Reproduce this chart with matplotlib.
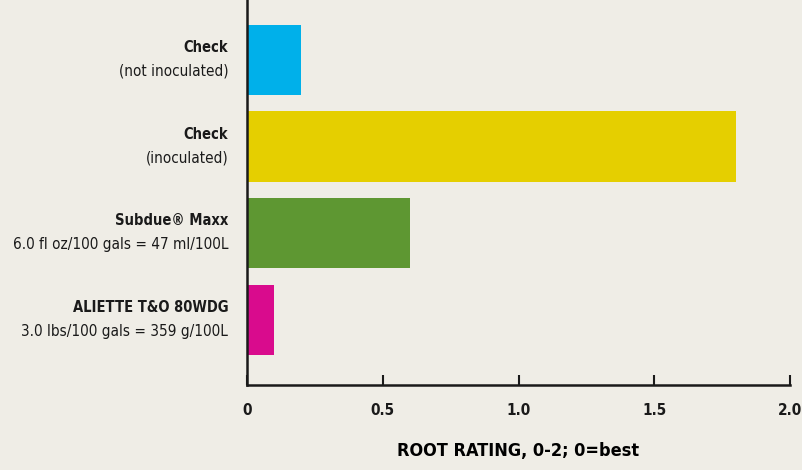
import matplotlib.pyplot as plt
from matplotlib import transforms

plt.rcParams['font.family'] = ['Liberation Sans Narrow', 'DejaVu Sans', 'DejaVu Sans']
plt.rcParams['font.stretch'] = 'condensed'

# data
names = ["Check", "Check", "Subdue\u00ae Maxx", "ALIETTE T&O 80WDG"]
rates = ["(not inoculated)", "(inoculated)",
         "6.0 fl oz/100 gals = 47 ml/100L", "3.0 lbs/100 gals = 359 g/100L"]
root_rating = [0.2, 1.8, 0.6, 0.1]
bar_colors = ["#00b0ea", "#e5cf00", "#5e9732", "#d90b8d"]
xticks = [0, 0.5, 1.0, 1.5, 2.0]
xtick_labels = ["0", "0.5", "1.0", "1.5", "2.0"]

bg = "#efede6"
fig = plt.figure(figsize=(8.02, 4.70), dpi=100, facecolor=bg)
ax = fig.add_axes([247 / 802, 1 - 385 / 470, 543 / 802, 385 / 470])
ax.set_facecolor(bg)

pos = list(range(len(names)))
ax.barh(pos, root_rating, height=0.81, color=bar_colors)
ax.set_ylim(3.75, -0.69)
ax.set_xlim(0, 2.0)

for s in ["top", "right"]:
    ax.spines[s].set_visible(False)
for s in ["left", "bottom"]:
    ax.spines[s].set_linewidth(1.8)
    ax.spines[s].set_color("#1a1a1a")

ax.set_yticks([])
ax.set_xticks(xticks)
ax.set_xticklabels(xtick_labels, fontsize=11, fontweight="bold")
ax.tick_params(axis="x", direction="in", length=7, width=1.5, pad=13, colors="#1a1a1a")
ax.set_xlabel("ROOT RATING, 0-2; 0=best", fontsize=13, fontweight="bold", labelpad=17)

trans = transforms.blended_transform_factory(ax.transAxes, ax.transData)
for p, n, r in zip(pos, names, rates):
    ax.annotate(n, xy=(0, p), xycoords=trans, xytext=(-13.5, 9), textcoords="offset points",
                ha="right", va="center", fontsize=10.5, fontweight="bold", color="#1a1a1a")
    ax.annotate(r, xy=(0, p), xycoords=trans, xytext=(-13.5, -8), textcoords="offset points",
                ha="right", va="center", fontsize=11, color="#1a1a1a")

fig.savefig("out.png", dpi=100, facecolor=bg)
